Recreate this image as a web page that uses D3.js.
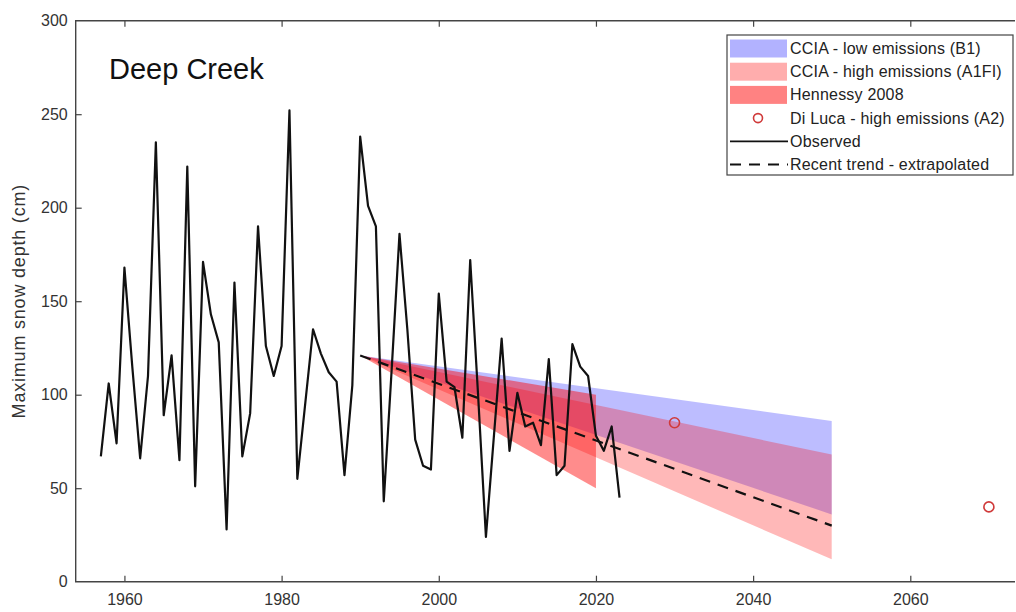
<!DOCTYPE html>
<html>
<head>
<meta charset="utf-8">
<script src="https://cdn.jsdelivr.net/npm/d3@7"></script>
<style>
  html, body { margin: 0; padding: 0; background: #fff; }
  svg { display: block; font-family: "Liberation Sans", Arial, sans-serif; }
</style>
</head>
<body>
<svg id="chart" width="1016" height="612"></svg>
<script>
// ---- data ----
const obsYears = [1957,1958,1959,1960,1961,1962,1963,1964,1965,1966,1967,1968,1969,1970,1971,1972,1973,1974,1975,1976,1977,1978,1979,1980,1981,1982,1983,1984,1985,1986,1987,1988,1989,1990,1991,1992,1993,1994,1995,1996,1997,1998,1999,2000,2001,2002,2003,2004,2005,2006,2007,2008,2009,2010,2011,2012,2013,2014,2015,2016,2017,2018,2019,2020,2021,2022,2023];
const obsValues = [67,106,74,168,115,66,110,235,89,121,65,222,51,171,143,128,28,160,67,90,190,126,110,126,252,55,95,135,122,112,107,57,105,238,201,190,43,113,186,135,76,62,60,154,107,104,77,172,100,24,77,130,70,101,83,85,73,119,57,62,127,115,110,78,70,83,45];

const projYears = [1990, 2050];
const b1Upper = [121, 86];
const b1Lower = [121, 36];
const a1fiUpper = [121, 68];
const a1fiLower = [121, 12];

const hennYears = [1990, 2020];
const hennUpper = [121, 100];
const hennLower = [121, 50];

const trendYears = [1990, 2050];
const trendValues = [121, 30];

const diLucaYears = [2030, 2070];
const diLucaValues = [85, 40];

const xTicks = [1960, 1980, 2000, 2020, 2040, 2060];
const yTicks = [0, 50, 100, 150, 200, 250, 300];

const legendItems = [
  {label: "CCIA - low emissions (B1)", type: "area", key: "b1"},
  {label: "CCIA - high emissions (A1FI)", type: "area", key: "a1fi"},
  {label: "Hennessy 2008", type: "area", key: "henn"},
  {label: "Di Luca - high emissions (A2)", type: "circle"},
  {label: "Observed", type: "line"},
  {label: "Recent trend - extrapolated", type: "dash"}
];

// ---- styles ----
const fills = {
  b1: {color: "#0000ff", opacity: 0.26},
  a1fi: {color: "#ff0000", opacity: 0.28},
  henn: {color: "#ff0000", opacity: 0.45}
};
const axisColor = "#444";
const textColor = "#333";

// ---- layout ----
const svg = d3.select("#chart");
const mLeft = 75.7, mRight = 1015, mTop = 20.7, mBottom = 581.7;

const x = d3.scaleLinear().domain([1953.8, 2073.45]).range([mLeft, mRight + 1]);
const y = d3.scaleLinear().domain([0, 300]).range([mBottom, mTop]);

// ---- projection bands ----
function band(years, lo, hi) {
  const pts = years.map((yr, i) => ({yr, lo: lo[i], hi: hi[i]}));
  return d3.area().x(d => x(d.yr)).y0(d => y(d.lo)).y1(d => y(d.hi))(pts);
}
svg.append("path").attr("d", band(projYears, b1Lower, b1Upper))
  .attr("fill", fills.b1.color).attr("fill-opacity", fills.b1.opacity);
svg.append("path").attr("d", band(projYears, a1fiLower, a1fiUpper))
  .attr("fill", fills.a1fi.color).attr("fill-opacity", fills.a1fi.opacity);
svg.append("path").attr("d", band(hennYears, hennLower, hennUpper))
  .attr("fill", fills.henn.color).attr("fill-opacity", fills.henn.opacity);

// ---- trend ----
const lineGen = d3.line().x(d => x(d[0])).y(d => y(d[1]));
svg.append("path")
  .attr("d", lineGen(trendYears.map((yr, i) => [yr, trendValues[i]])))
  .attr("fill", "none").attr("stroke", "#111").attr("stroke-width", 2.2)
  .attr("stroke-dasharray", "11,8");

// ---- observed ----
svg.append("path")
  .attr("d", lineGen(obsYears.map((yr, i) => [yr, obsValues[i]])))
  .attr("fill", "none").attr("stroke", "#111").attr("stroke-width", 2.2)
  .attr("stroke-linejoin", "round");

// ---- Di Luca ----
svg.selectAll("circle.diluca").data(diLucaYears.map((yr, i) => [yr, diLucaValues[i]]))
  .enter().append("circle").attr("class", "diluca")
  .attr("cx", d => x(d[0])).attr("cy", d => y(d[1])).attr("r", 5)
  .attr("fill", "none").attr("stroke", "#d03a3a").attr("stroke-width", 1.6);

// ---- axes ----
const gx = svg.append("g").attr("transform", `translate(0,${mBottom})`)
  .call(d3.axisBottom(x).tickValues(xTicks).tickFormat(d3.format("d")).tickSize(-6).tickPadding(12));
const gxTop = svg.append("g").attr("transform", `translate(0,${mTop})`)
  .call(d3.axisTop(x).tickValues(xTicks).tickFormat("").tickSize(-6));
const gy = svg.append("g").attr("transform", `translate(${mLeft},0)`)
  .call(d3.axisLeft(y).tickValues(yTicks).tickSize(-6).tickPadding(8));
[gx, gxTop, gy].forEach(g => {
  g.select(".domain").remove();
  g.selectAll(".tick line").attr("stroke", axisColor).attr("stroke-width", 1.2);
  g.selectAll(".tick text").attr("fill", textColor).attr("font-size", 16)
    .attr("font-family", "'Liberation Sans', Arial, sans-serif");
});
gy.selectAll(".tick").filter(d => d === 0 || d === 300).select("line").remove();

// frame
svg.append("path")
  .attr("d", `M${mRight},${mTop}H${mLeft}V${mBottom}H${mRight}`)
  .attr("fill", "none").attr("stroke", axisColor).attr("stroke-width", 1.4);

// axis title
svg.append("text")
  .attr("transform", `translate(25,${(mTop + mBottom) / 2}) rotate(-90)`)
  .attr("text-anchor", "middle").attr("font-size", 18).attr("letter-spacing", 0.8)
  .attr("fill", textColor)
  .text("Maximum snow depth (cm)");

// chart label
svg.append("text").attr("x", 109).attr("y", 79)
  .attr("font-size", 29).attr("fill", "#111").text("Deep Creek");

// ---- legend ----
const lg = svg.append("g");
const lgX = 727, lgY = 35, lgW = 286, lgH = 140, rowH = 23.2;
lg.append("rect").attr("x", lgX).attr("y", lgY).attr("width", lgW).attr("height", lgH)
  .attr("fill", "#fff").attr("stroke", axisColor).attr("stroke-width", 1.2);
legendItems.forEach((it, i) => {
  const cy = lgY + 13.5 + i * rowH;
  const g = lg.append("g");
  if (it.type === "area") {
    g.append("rect").attr("x", lgX + 3).attr("y", cy - 9).attr("width", 57).attr("height", 18)
      .attr("fill", fills[it.key].color).attr("fill-opacity", fills[it.key].opacity + 0.04);
  } else if (it.type === "circle") {
    g.append("circle").attr("cx", lgX + 31).attr("cy", cy).attr("r", 4.5)
      .attr("fill", "none").attr("stroke", "#d03a3a").attr("stroke-width", 1.6);
  } else if (it.type === "line") {
    g.append("line").attr("x1", lgX + 3).attr("x2", lgX + 61).attr("y1", cy).attr("y2", cy)
      .attr("stroke", "#111").attr("stroke-width", 1.8);
  } else {
    g.append("line").attr("x1", lgX + 3).attr("x2", lgX + 61).attr("y1", cy).attr("y2", cy)
      .attr("stroke", "#111").attr("stroke-width", 2).attr("stroke-dasharray", "11,8");
  }
  g.append("text").attr("x", lgX + 63).attr("y", cy + 5.5)
    .attr("font-size", 16).attr("letter-spacing", 0.2).attr("fill", "#222").text(it.label);
});
</script>
</body>
</html>
